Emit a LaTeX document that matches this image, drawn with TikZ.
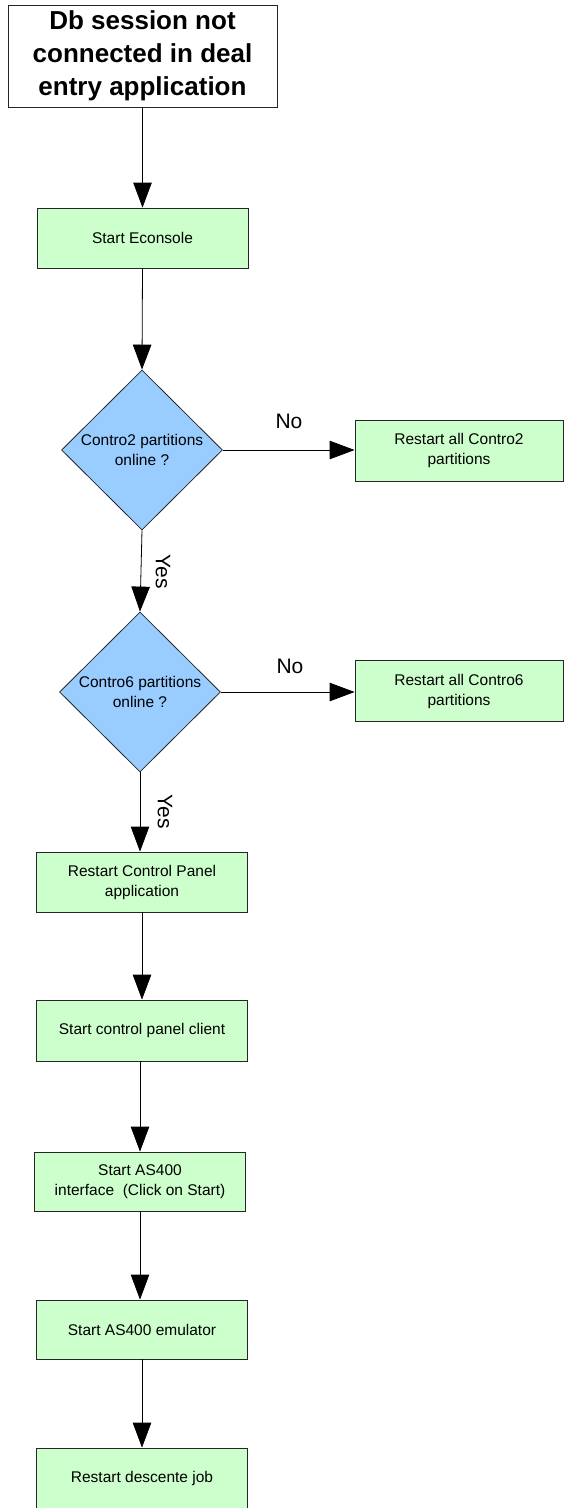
\documentclass[tikz,border=0pt]{standalone}
\usepackage{fontspec}
\setmainfont{Liberation Sans}
\usetikzlibrary{shapes.geometric,arrows.meta}
\definecolor{boxgreen}{HTML}{CCFFCC}
\definecolor{diablue}{HTML}{99CCFF}

\begin{document}
\begin{tikzpicture}[
        x=1pt, y=-1pt,
        task/.style={rectangle, draw=black!85, fill=boxgreen, line width=0.8pt, minimum width=211pt, minimum height=60pt, inner sep=1pt, align=center, font=\fontsize{15.5}{20}\selectfont},
        decision/.style={diamond, draw=black!85, fill=diablue, line width=0.8pt, minimum width=161pt, minimum height=160pt, inner sep=0pt, align=center, font=\fontsize{15.5}{20}\selectfont},
        flow/.style={line width=0.8pt, -{Triangle[length=25pt,width=18.5pt]}},
        answer/.style={font=\fontsize{21}{24}\selectfont},
    ]
	\useasboundingbox (0,0) rectangle (563,1508);
	\node[rectangle, draw=black!85, line width=0.8pt, minimum width=269pt, minimum height=102pt, align=center, font=\fontsize{26}{33}\selectfont\bfseries] (s_0) at (142.5,56) {Db session not\\connected in deal\\entry application};
	\node[task] (s_1) at (142.5,238) {Start Econsole};
	\node[decision] (d_1) at (142,450) {Contro2 partitions\\online ?};
	\node[task, minimum width=208pt, minimum height=61pt] (r_1) at (459,450.5) {Restart all Contro2\\partitions};
	\node[decision] (d_2) at (140,692) {Contro6 partitions\\online ?};
	\node[task, minimum width=208pt, minimum height=61pt] (r_2) at (459,691) {Restart all Contro6\\partitions};
	\node[task] (s_2) at (142,882) {Restart Control Panel\\application};
	\node[task, minimum height=61pt] (s_3) at (142,1030.5) {Start control panel client};
	\node[task, minimum height=59pt] (s_4) at (140,1181.5) {Start AS400\\interface\ \ (Click on Start)};
	\node[task, minimum height=59pt] (s_5) at (142,1329.5) {Start AS400 emulator};
	\node[task] (s_6) at (142,1478) {Restart descente job};

	\node[answer] (n_1) at (289,421) {No};
	\node[answer] (n_2) at (290,666) {No};
	\node[answer, rotate=-90] (y_1) at (163,572) {Yes};
	\node[answer, rotate=-90] (y_2) at (165,812) {Yes};

	\draw[flow] (s_0.south) -- (s_1.north);
	\draw[flow] (s_1.south) -- (d_1.north);
	\draw[flow] (d_1.east) -- (r_1.west |- d_1.east);
	\draw[flow] (d_1.south) -- (d_2.north);
	\draw[flow] (d_2.east) -- (r_2.west |- d_2.east);
	\draw[flow] (d_2.south) -- (d_2.south |- s_2.north);
	\draw[flow] (s_2.south) -- (s_3.north);
	\draw[flow] (s_3.south) -- (s_3.south -| s_4.north) -- (s_4.north);
	\draw[flow] (s_4.south) -- (s_4.south |- s_5.north);
	\draw[flow] (s_5.south) -- (s_6.north);

    \end{tikzpicture}
\end{document}
